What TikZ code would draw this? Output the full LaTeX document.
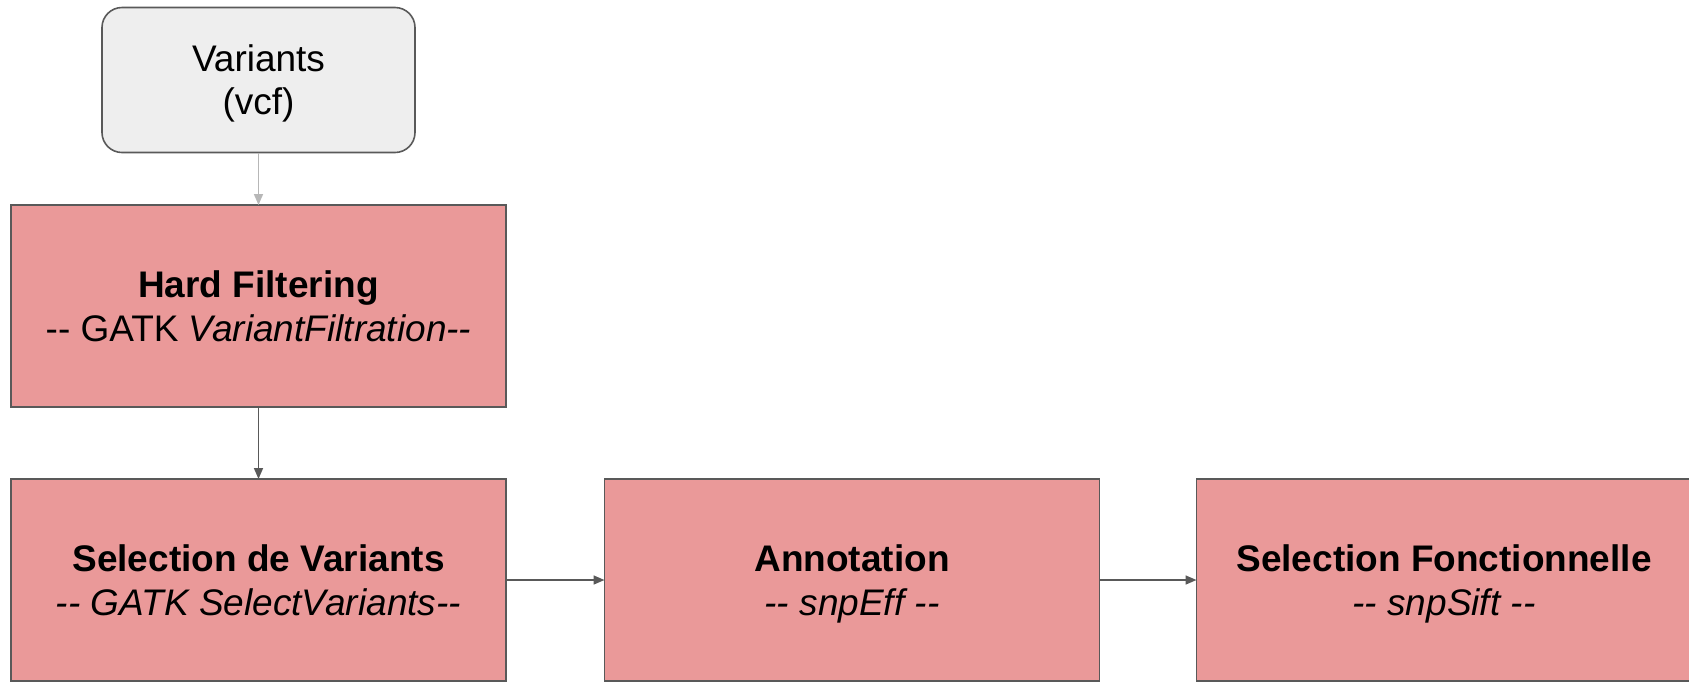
\documentclass[tikz,border=0pt]{standalone}
\usepackage{fontspec}
\setmainfont{Liberation Sans}
\usetikzlibrary{arrows.meta}
\definecolor{boxred}{HTML}{EA9999}
\definecolor{boxgray}{HTML}{EEEEEE}
\definecolor{edgegray}{HTML}{595959}
\definecolor{lightarrow}{HTML}{B7B7B7}
\newcommand\topstrut{\rule{0pt}{36pt}}
\newcommand\botstrut{\rule[-10pt]{0pt}{10pt}}
\begin{document}
\begin{tikzpicture}[x=1pt,y=-1pt,
  stepbox/.style={draw=edgegray, line width=1.6pt, fill=boxred, minimum width=495pt, minimum height=202pt, inner sep=0pt, outer sep=0pt, align=center, font=\fontsize{37}{44}\selectfont},
  inputbox/.style={draw=edgegray, line width=1.6pt, fill=boxgray, rounded corners=20pt, minimum width=313pt, minimum height=145pt, inner sep=0pt, outer sep=0pt, align=center, font=\fontsize{37}{43}\selectfont},
  flow/.style={draw=edgegray, line width=1.6pt, -{Triangle[length=11pt,width=9pt]}},
  flowlight/.style={draw=lightarrow, line width=1.6pt, -{Triangle[length=11pt,width=9pt]}}]
\useasboundingbox (0,0) rectangle (1689,681);
\node[inputbox] (var) at (258.5,80) {\topstrut Variants\\(vcf)\botstrut};
\node[stepbox] (hard) at (258.5,306) {\topstrut\textbf{Hard Filtering}\\-{}- GATK \textit{VariantFiltration-{}-}\botstrut};
\node[stepbox] (sel) at (258.5,580) {\topstrut\textbf{Selection de Variants}\\\textit{-{}- GATK SelectVariants-{}-}\botstrut};
\node[stepbox] (ann) at (852,580) {\topstrut\textbf{Annotation}\\\textit{-{}- snpEff -{}-}\botstrut};
\node[stepbox] (fonc) at (1444,580) {\topstrut\textbf{Selection Fonctionnelle}\\\textit{-{}- snpSift -{}-}\botstrut};
\draw[flowlight] (var) -- (hard);
\draw[flow] (hard) -- (sel);
\draw[flow] (sel) -- (ann);
\draw[flow] (ann) -- (fonc);
\end{tikzpicture}
\end{document}
